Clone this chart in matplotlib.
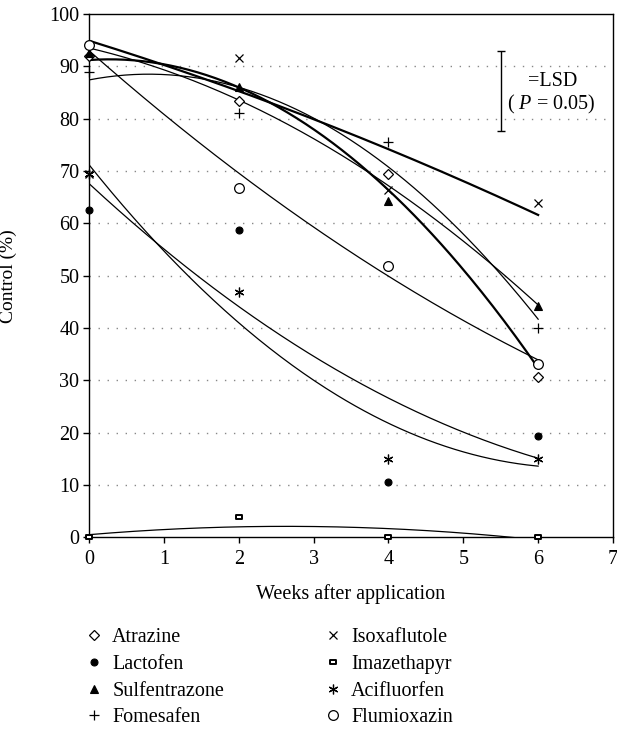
import numpy as np
import matplotlib
matplotlib.use("Agg")
import matplotlib.pyplot as plt
from matplotlib.path import Path
from matplotlib.lines import Line2D

plt.rcParams['font.family'] = ['Liberation Serif', 'DejaVu Serif']
plt.rcParams['mathtext.fontset'] = 'custom'
plt.rcParams['mathtext.it'] = 'Liberation Serif:italic'
plt.rcParams['mathtext.rm'] = 'Liberation Serif'

# ---------------- data ----------------
weeks = [0, 2, 4, 6]
herbicides = ["Atrazine", "Lactofen", "Sulfentrazone", "Fomesafen",
              "Isoxaflutole", "Imazethapyr", "Acifluorfen", "Flumioxazin"]

atrazine      = [92.0, 83.4, 69.5, 30.7]
lactofen      = [62.5, 58.8, 10.6, 19.4]
sulfentrazone = [92.5, 86.0, 64.3, 44.2]
fomesafen     = [89.0, 81.0, 75.6, 40.0]
isoxaflutole  = [69.5, 91.6, 66.4, 63.8]
imazethapyr   = [0.0, 3.8, 0.0, 0.0]
acifluorfen   = [69.5, 46.9, 15.0, 15.0]
flumioxazin   = [94.0, 66.8, 51.9, 33.2]

# fitted regression curves: control = c0 + c1*w + c2*w^2
fit_c0 = [91.2, 67.6, 93.5, 87.4, 94.9, 0.5, 71.2, 93.0]
fit_c1 = [0.99, -13.25, -3.36, 2.76, -4.449, 1.21, -17.85, -12.625]
fit_c2 = [-1.80, 0.75, -0.804, -1.73, -0.1835, -0.23, 1.375, 0.4625]
fit_thick = [True, False, False, False, True, False, False, False]

lsd_x = 5.51
lsd_low, lsd_high = 77.55, 92.85

xticks = list(range(0, 8))
yticks = list(range(0, 101, 10))

# ---------------- styles ----------------
rect = Path([(-1, -0.5), (1, -0.5), (1, 0.5), (-1, 0.5), (-1, -0.5)],
            [Path.MOVETO, Path.LINETO, Path.LINETO, Path.LINETO, Path.CLOSEPOLY])
styles = {
    "Atrazine":      dict(marker="D", ms=5.0, mfc="white", mec="black", mew=0.9),
    "Lactofen":      dict(marker="o", ms=5.0, mfc="black", mec="black", mew=0.8),
    "Sulfentrazone": dict(marker="^", ms=6.0, mfc="black", mec="black", mew=0.8),
    "Fomesafen":     dict(marker="+", ms=7.0, mfc="none", mec="black", mew=0.9),
    "Isoxaflutole":  dict(marker="x", ms=6.0, mfc="none", mec="black", mew=0.9),
    "Imazethapyr":   dict(marker=rect, ms=5.0, mfc="white", mec="black", mew=1.4),
    "Acifluorfen":   dict(marker=(6, 2, 0), ms=7.0, mfc="none", mec="black", mew=0.9),
    "Flumioxazin":   dict(marker="o", ms=7.0, mfc="white", mec="black", mew=0.9),
}
series = [atrazine, lactofen, sulfentrazone, fomesafen,
          isoxaflutole, imazethapyr, acifluorfen, flumioxazin]

FS = 14.5

fig = plt.figure(figsize=(6.17, 7.31), dpi=100)
ax = fig.add_axes([89/617, 1-537.3/731, (613-89)/617, (537.3-14)/731])

# grid
for yv in yticks[1:-1]:
    ax.axhline(yv, color="#888888", lw=1.0, ls=(0, (1, 5.5)), zorder=0)

# curves
xs = np.linspace(0, 6, 200)
for c0, c1, c2, thick in zip(fit_c0, fit_c1, fit_c2, fit_thick):
    ax.plot(xs, np.polyval([c2, c1, c0], xs), color="black",
            lw=1.6 if thick else 0.9, zorder=2)

# points
handles = []
for name, vals in zip(herbicides, series):
    st = styles[name]
    ax.plot(weeks, vals, ls="none", clip_on=False, zorder=4, **st)
    handles.append(Line2D([], [], ls="none", label=name, **st))

# LSD bar
ax.errorbar([lsd_x], [(lsd_low + lsd_high) / 2], yerr=[(lsd_high - lsd_low) / 2],
            fmt="none", ecolor="black", elinewidth=1.0, capsize=3, capthick=1.0, zorder=3)
ax.text(6.2, 87.05, "=LSD", ha="center", va="center", fontsize=FS)
ax.text(6.17, 82.75, "( $\\mathit{P}$ = 0.05)", ha="center", va="center", fontsize=FS)

ax.set_xlim(0, 7)
ax.set_ylim(0, 100)
ax.set_xticks(xticks)
ax.set_yticks(yticks)
ax.tick_params(direction="out", length=4, width=1.0, labelsize=FS, pad=3)
ax.tick_params(axis="x", pad=5)
for sp in ax.spines.values():
    sp.set_linewidth(1.0)
ax.set_xlabel("Weeks after application", fontsize=FS)
ax.set_ylabel("Control (%)", fontsize=FS - 0.5)
ax.xaxis.set_label_coords(0.5, -0.0892)
ax.yaxis.set_label_coords(-0.137, 0.5)

leg = fig.legend(handles=handles, ncol=2, loc="upper left",
                 bbox_to_anchor=(84/617, 1-628/731), frameon=False,
                 fontsize=FS, handlelength=1.0, handletextpad=0.4,
                 columnspacing=4.9, labelspacing=0.38, borderaxespad=0,
                 borderpad=0)

fig.savefig("out.png", dpi=100)
